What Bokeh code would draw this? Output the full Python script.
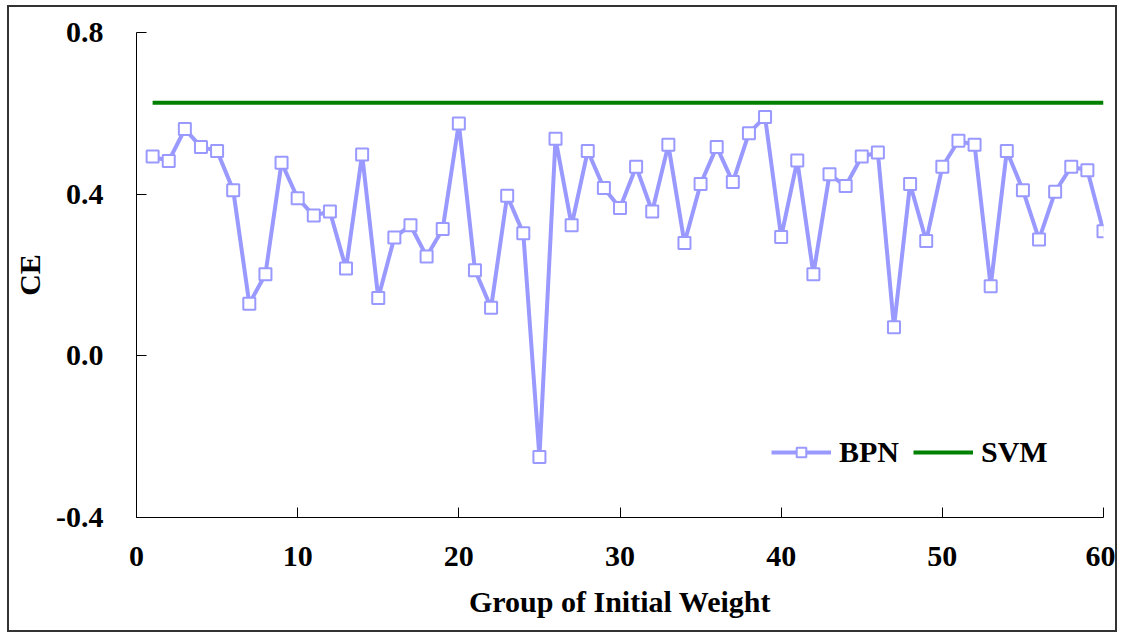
from bokeh.plotting import figure
from bokeh.models import Legend, LegendItem, FixedTicker, PrintfTickFormatter, Range1d
from bokeh.embed import file_html
from bokeh.resources import INLINE

# ---- data ----
groups = list(range(1, 61))
bpn = [0.493, 0.482, 0.561, 0.517, 0.507, 0.410, 0.129, 0.202, 0.478, 0.390,
       0.347, 0.357, 0.216, 0.498, 0.143, 0.293, 0.323, 0.246, 0.314, 0.575,
       0.212, 0.119, 0.396, 0.303, -0.250, 0.537, 0.323, 0.507, 0.415, 0.366,
       0.468, 0.357, 0.522, 0.279, 0.425, 0.517, 0.430, 0.551, 0.591, 0.294,
       0.483, 0.202, 0.449, 0.420, 0.493, 0.503, 0.071, 0.425, 0.284, 0.468,
       0.532, 0.522, 0.172, 0.507, 0.410, 0.288, 0.406, 0.468, 0.459, 0.308]
svm_x = [1, 60]
svm_y = [0.626, 0.626]
x_ticks = [0, 10, 20, 30, 40, 50, 60]
y_ticks = [-0.4, 0.0, 0.4, 0.8]

FONT = "Liberation Serif"
BPN_COLOR = "#9999FF"
SVM_COLOR = "#008000"

p = figure(width=1110, height=627, output_backend="svg", toolbar_location=None,
           x_range=Range1d(0, 60), y_range=Range1d(-0.4, 0.8),
           min_border_left=127, min_border_right=16, min_border_top=25, min_border_bottom=117)
p.margin = (5, 0, 0, 7)
p.styles = {"border": "2px solid #333333"}
p.outline_line_color = None
p.xgrid.visible = False
p.ygrid.visible = False
p.background_fill_color = "white"
p.border_fill_color = "white"

r1 = p.line(groups, bpn, line_color=BPN_COLOR, line_width=4)
r2 = p.scatter(groups, bpn, marker="square", size=12, fill_color="white",
               line_color=BPN_COLOR, line_width=2)
r3 = p.line(svm_x, svm_y, line_color=SVM_COLOR, line_width=4)

for ax in (p.xaxis[0], p.yaxis[0]):
    ax.axis_line_color = "black"
    ax.axis_line_width = 1
    ax.major_tick_in = 10
    ax.major_tick_out = 0
    ax.minor_tick_line_color = None
    ax.major_label_text_font = FONT
    ax.major_label_text_font_style = "bold"
    ax.major_label_text_font_size = "30px"
    ax.major_label_text_color = "black"
    ax.axis_label_text_font = FONT
    ax.axis_label_text_font_style = "bold"
    ax.axis_label_text_font_size = "30px"
    ax.axis_label_text_color = "black"

p.xaxis[0].ticker = FixedTicker(ticks=x_ticks)
p.yaxis[0].ticker = FixedTicker(ticks=y_ticks)
p.yaxis[0].formatter = PrintfTickFormatter(format="%.1f")
p.xaxis[0].axis_label = "Group of Initial Weight"
p.yaxis[0].axis_label = "CE"
p.xaxis[0].major_label_standoff = 29
p.yaxis[0].major_label_standoff = 33
p.xaxis[0].axis_label_standoff = 16
p.yaxis[0].axis_label_standoff = 7

legend = Legend(items=[LegendItem(label="BPN", renderers=[r1, r2]),
                       LegendItem(label="SVM", renderers=[r3])],
                orientation="horizontal", location=(635, 48))
legend.border_line_color = None
legend.background_fill_alpha = 0
legend.padding = 0
legend.margin = 0
legend.spacing = 14
legend.glyph_width = 60
legend.glyph_height = 24
legend.label_standoff = 8
legend.label_text_font = FONT
legend.label_text_font_style = "bold"
legend.label_text_font_size = "30px"
legend.label_text_color = "black"
p.add_layout(legend, "center")

open("out.html", "w").write(file_html(p, INLINE))
